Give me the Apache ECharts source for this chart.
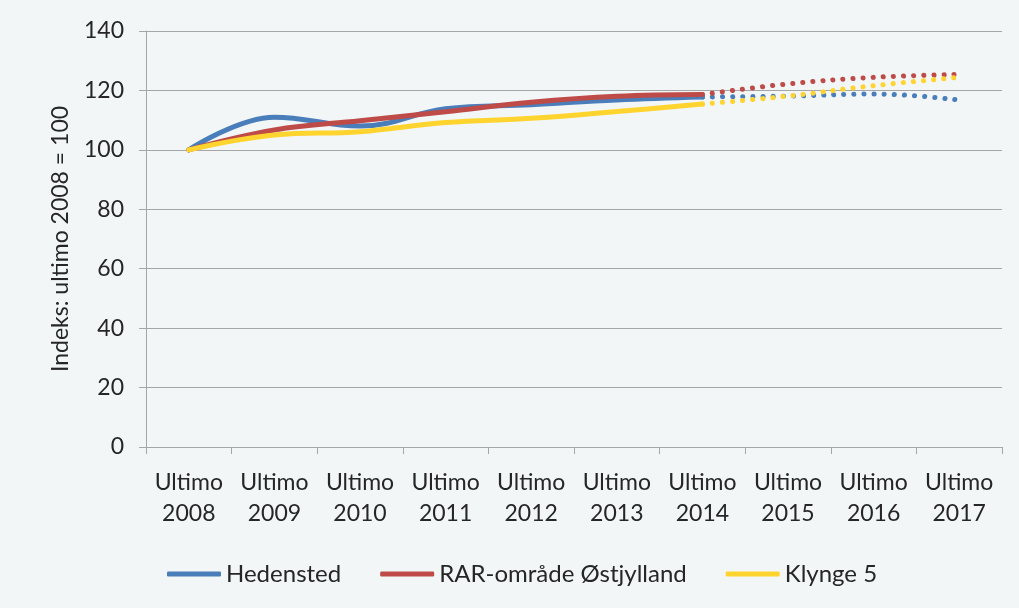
<!DOCTYPE html>
<html>
<head>
<meta charset="utf-8">
<script src="https://cdn.jsdelivr.net/npm/echarts@6/dist/echarts.min.js"></script>
<style>
    html, body { margin: 0; padding: 0; background: #ffffff; }
    #chart { width: 1019px; height: 608px; background: #f2f6f7; }
</style>
</head>
<body>
<div id="chart"></div>
<script>
    // categories (x axis)
    var years = ['Ultimo\n2008', 'Ultimo\n2009', 'Ultimo\n2010', 'Ultimo\n2011', 'Ultimo\n2012',
                 'Ultimo\n2013', 'Ultimo\n2014', 'Ultimo\n2015', 'Ultimo\n2016', 'Ultimo\n2017'];

    // actual values 2008-2014, forecast 2014-2017 ('-' = no value)
    var hedensted      = [100, 111, 108, 113.8, 115.2, 116.8, 117.8, '-', '-', '-'];
    var hedenstedProg  = ['-', '-', '-', '-', '-', '-', 117.8, 118.1, 118.8, 116.8];
    var oestjylland     = [100, 106.7, 109.8, 112.8, 116, 118, 118.6, '-', '-', '-'];
    var oestjyllandProg = ['-', '-', '-', '-', '-', '-', 118.6, 122.2, 124.4, 125.4];
    var klynge5     = [100, 105, 106.1, 109.2, 110.6, 112.9, 115.4, '-', '-', '-'];
    var klynge5Prog = ['-', '-', '-', '-', '-', '-', 115.4, 118.1, 121.6, 124.4];

    var names = ['Hedensted', 'RAR-område Østjylland', 'Klynge 5'];
    var colors = ['#4a7ebb', '#be4b48', '#ffd42e'];

    var font = 'Lato, "Open Sans", sans-serif';
    var textColor = '#262626';
    var gridColor = '#a6a6a6';

    function solid(i, data) {
        return {
            name: names[i],
            type: 'line',
            data: data,
            smooth: 0.4,
            showSymbol: false,
            color: colors[i],
            lineStyle: { width: 5, color: colors[i], cap: 'round' }
        };
    }

    function dotted(i, data) {
        return {
            name: names[i],
            type: 'line',
            data: data,
            smooth: 0.4,
            showSymbol: false,
            color: colors[i],
            lineStyle: { width: 5, color: colors[i], type: [0.1, 10], cap: 'round' }
        };
    }

    var chart = echarts.init(document.getElementById('chart'));
    chart.setOption({
        animation: false,
        textStyle: { fontFamily: font },
        grid: { left: 146, right: 17, top: 31, bottom: 161 },
        legend: {
            data: names,
            left: 162,
            top: 557,
            icon: 'roundRect',
            itemWidth: 54,
            itemHeight: 5,
            itemGap: 39,
            textStyle: { fontFamily: font, fontSize: 24, color: textColor }
        },
        xAxis: {
            type: 'category',
            data: years,
            boundaryGap: true,
            axisLine: { lineStyle: { color: gridColor, width: 1 } },
            axisTick: { show: true, length: 7, lineStyle: { color: gridColor } },
            axisLabel: {
                interval: 0,
                margin: 20,
                fontFamily: font,
                fontSize: 23,
                lineHeight: 31,
                color: textColor
            }
        },
        yAxis: {
            type: 'value',
            min: 0,
            max: 140,
            interval: 20,
            name: 'Indeks: ultimo 2008 = 100',
            nameLocation: 'middle',
            nameGap: 74,
            nameTextStyle: { fontFamily: font, fontSize: 23, color: textColor },
            axisLine: { show: true, lineStyle: { color: gridColor, width: 1 } },
            axisTick: { show: true, length: 7, lineStyle: { color: gridColor } },
            axisLabel: { margin: 22, fontFamily: font, fontSize: 23, color: textColor },
            splitLine: { lineStyle: { color: gridColor, width: 1 } }
        },
        series: [
            solid(0, hedensted),
            solid(1, oestjylland),
            solid(2, klynge5),
            dotted(0, hedenstedProg),
            dotted(1, oestjyllandProg),
            dotted(2, klynge5Prog)
        ]
    });
</script>
</body>
</html>
